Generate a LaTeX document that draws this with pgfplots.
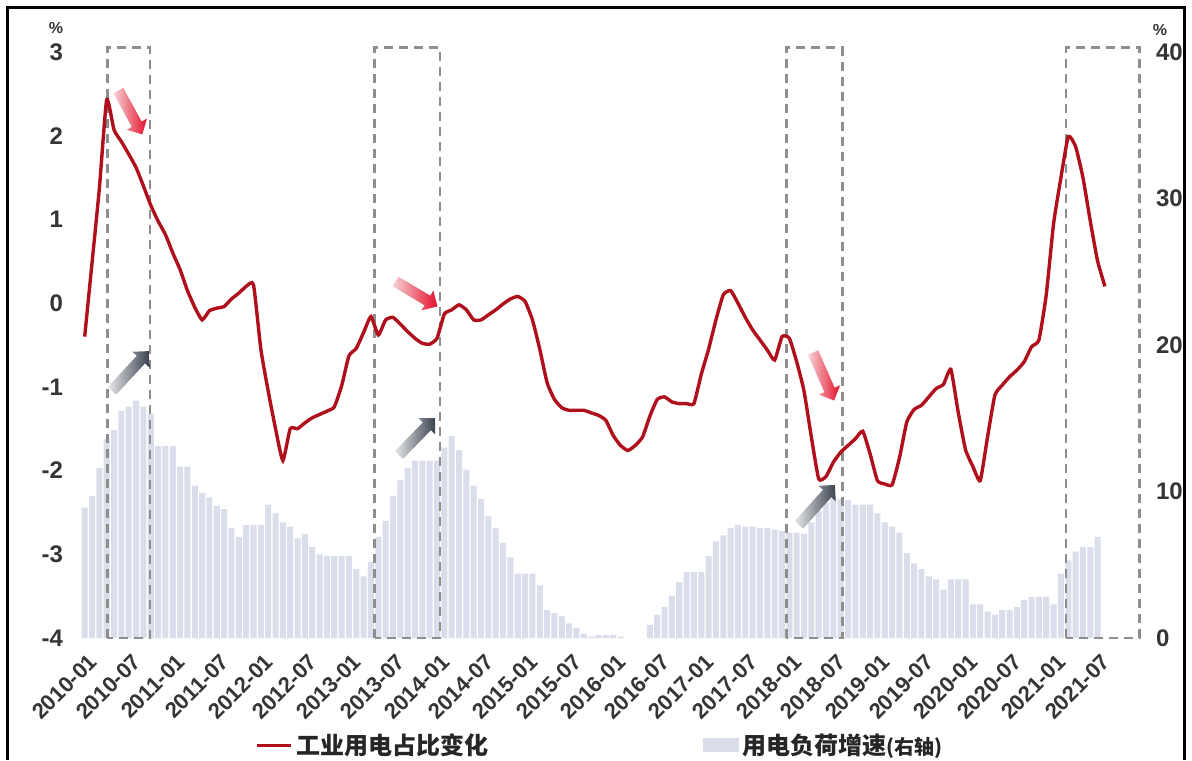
\documentclass[border=0pt]{standalone}
\usepackage{fontspec}
\setmainfont{Liberation Sans}
\newfontfamily\cjk{Noto Sans CJK SC}
\usepackage{pgfplots}
\usepackage{pgfplotstable}
\pgfplotsset{compat=1.18}
\usetikzlibrary{shapes.arrows}

\definecolor{linered}{HTML}{B0101C}
\definecolor{barfill}{HTML}{D9DEEA}
\definecolor{boxgray}{HTML}{8E8E8E}
\definecolor{ticktext}{HTML}{353535}
\definecolor{arrowred}{HTML}{E3102A}
\definecolor{arrowpink}{HTML}{F7D3D7}
\definecolor{arrowdark}{HTML}{3B4350}
\definecolor{arrowlight}{HTML}{E6E7E9}

% load growth, right axis (%), month index 0 = 2010-01
\pgfplotstableread{
k v
0 8.9
1 9.7
2 11.6
3 13.6
4 14.2
5 15.5
6 15.8
7 16.2
8 15.8
9 15.3
10 13.1
11 13.1
12 13.1
13 11.7
14 11.7
15 10.4
16 9.9
17 9.6
18 9.0
19 8.8
20 7.5
21 6.9
22 7.7
23 7.7
24 7.7
25 9.1
26 8.5
27 7.9
28 7.6
29 6.8
30 7.1
31 6.2
32 5.7
33 5.6
34 5.6
35 5.6
36 5.6
37 4.7
38 4.2
39 5.2
40 6.9
41 8.0
42 9.7
43 10.8
44 11.6
45 12.1
46 12.1
47 12.1
48 12.1
49 13.0
50 13.8
51 12.8
52 11.5
53 10.4
54 9.5
55 8.3
56 7.5
57 6.5
58 5.5
59 4.4
60 4.4
61 4.4
62 3.6
63 1.9
64 1.7
65 1.5
66 1.0
67 0.7
68 0.3
69 0.1
70 0.2
71 0.2
72 0.2
73 0.1
74 0
75 0
76 0
77 0.9
78 1.6
79 2.1
80 2.9
81 3.8
82 4.5
83 4.5
84 4.5
85 5.6
86 6.6
87 7.0
88 7.5
89 7.7
90 7.6
91 7.6
92 7.5
93 7.5
94 7.4
95 7.3
96 7.2
97 7.2
98 7.1
99 7.9
100 8.7
101 9.2
102 9.5
103 9.5
104 9.4
105 9.1
106 9.1
107 9.1
108 8.5
109 7.9
110 7.6
111 7.2
112 5.8
113 5.1
114 4.7
115 4.2
116 4.0
117 3.3
118 4.0
119 4.0
120 4.0
121 2.3
122 2.3
123 1.8
124 1.6
125 1.9
126 1.9
127 2.1
128 2.6
129 2.8
130 2.8
131 2.8
132 2.3
133 4.4
134 5.3
135 5.9
136 6.2
137 6.2
138 6.9
}\loadtable

% change of industrial share, left axis (%)
\pgfplotstableread{
k v
0 -0.40
1 0.48
2 1.37
3 2.43
4 2.07
5 1.93
6 1.78
7 1.62
8 1.40
9 1.17
10 0.98
11 0.82
12 0.60
13 0.40
14 0.15
15 -0.05
16 -0.20
17 -0.09
18 -0.06
19 -0.04
20 0.05
21 0.12
22 0.20
23 0.22
24 -0.55
25 -1.05
26 -1.50
27 -1.88
28 -1.50
29 -1.50
30 -1.43
31 -1.37
32 -1.33
33 -1.29
34 -1.24
35 -0.99
36 -0.63
37 -0.54
38 -0.35
39 -0.16
40 -0.38
41 -0.20
42 -0.17
43 -0.25
44 -0.34
45 -0.42
46 -0.48
47 -0.49
48 -0.42
49 -0.13
50 -0.08
51 -0.02
52 -0.08
53 -0.20
54 -0.20
55 -0.14
56 -0.08
57 -0.01
58 0.05
59 0.08
60 0.02
61 -0.20
62 -0.55
63 -0.95
64 -1.15
65 -1.25
66 -1.28
67 -1.28
68 -1.28
69 -1.31
70 -1.34
71 -1.40
72 -1.58
73 -1.70
74 -1.76
75 -1.70
76 -1.60
77 -1.35
78 -1.15
79 -1.12
80 -1.18
81 -1.20
82 -1.20
83 -1.20
84 -0.85
85 -0.55
86 -0.20
87 0.10
88 0.15
89 0.00
90 -0.17
91 -0.32
92 -0.44
93 -0.56
94 -0.68
95 -0.40
96 -0.42
97 -0.70
98 -1.05
99 -1.60
100 -2.10
101 -2.07
102 -1.90
103 -1.78
104 -1.70
105 -1.62
106 -1.53
107 -1.80
108 -2.12
109 -2.16
110 -2.17
111 -1.85
112 -1.42
113 -1.27
114 -1.22
115 -1.12
116 -1.02
117 -0.97
118 -0.79
119 -1.30
120 -1.75
121 -1.95
122 -2.12
123 -1.60
124 -1.10
125 -0.98
126 -0.88
127 -0.80
128 -0.70
129 -0.52
130 -0.44
131 0.10
132 0.95
133 1.50
134 1.99
135 1.87
136 1.50
137 0.98
138 0.50
139 0.20
}\sharetable

\tikzset{
  redarrow/.style={single arrow, draw=none, inner sep=2.6pt, minimum width=0pt,
    single arrow head extend=3pt, left color=arrowpink, right color=arrowred},
  grayarrow/.style={single arrow, draw=none, inner sep=2.6pt, minimum width=0pt,
    single arrow head extend=3pt, left color=arrowlight, right color=arrowdark},
}

\begin{document}
\begin{tikzpicture}[x=1pt,y=1pt]
\useasboundingbox (-35,-61) rectangle (561,319);
\fill[white] (-35,-61) rectangle (561,319);

% bars on the right axis
\begin{axis}[
  at={(0,0)}, anchor=south west, scale only axis,
  width=539.5pt, height=293pt,
  xmin=-2, xmax=145, ymin=0, ymax=40,
  axis x line=none,
  axis y line*=right,
  y axis line style={draw=none},
  ytick style={draw=none},
  ytick={0,10,20,30,40},
  yticklabels={0,10,20,30,40},
  yticklabel style={font=\bfseries\fontsize{12}{12}\selectfont, text=ticktext},
]
\addplot[ybar, bar width=0.82, fill=barfill, draw=none] table[x=k,y=v]{\loadtable};
\end{axis}

% line on the left axis
\begin{axis}[
  at={(0,0)}, anchor=south west, scale only axis,
  width=539.5pt, height=293pt,
  xmin=-2, xmax=145, ymin=-4, ymax=3,
  clip=false,
  axis y line*=left, axis x line*=bottom,
  axis line style={draw=none},
  tick style={draw=none},
  xtick={0,6,...,138},
  xticklabels={2010-01,2010-07,2011-01,2011-07,2012-01,2012-07,2013-01,2013-07,2014-01,2014-07,2015-01,2015-07,2016-01,2016-07,2017-01,2017-07,2018-01,2018-07,2019-01,2019-07,2020-01,2020-07,2021-01,2021-07},
  xticklabel style={rotate=45, anchor=north east, font=\bfseries\fontsize{11}{11}\selectfont, text=ticktext, xshift=-3pt, yshift=-5pt, inner sep=1pt},
  ytick={-4,-3,-2,-1,0,1,2,3},
  yticklabels={-4,-3,-2,-1,0,1,2,3},
  yticklabel style={font=\bfseries\fontsize{12}{12}\selectfont, text=ticktext},
  legend columns=2,
  legend style={at={(axis description cs:0.492,-0.183)}, anchor=center, draw=none, fill=none,
    font=\cjk\bfseries\fontsize{12}{12}\selectfont, text=black!85,
    /tikz/every even column/.append style={column sep=105pt}},
]
\draw[boxgray, line width=1.4pt, dash pattern=on 4.5pt off 3pt] (axis cs:3.1,-4) rectangle (axis cs:8.9,3.05);
\draw[boxgray, line width=1.4pt, dash pattern=on 4.5pt off 3pt] (axis cs:39.5,-4) rectangle (axis cs:48.4,3.05);
\draw[boxgray, line width=1.4pt, dash pattern=on 4.5pt off 3pt] (axis cs:95.6,-4) rectangle (axis cs:103.2,3.05);
\draw[boxgray, line width=1.4pt, dash pattern=on 4.5pt off 3pt] (axis cs:133.7,-4) rectangle (axis cs:143.7,3.05);
\addplot[linered, line width=1.7pt, smooth, tension=0.3] table[x=k,y=v]{\sharetable};
\addlegendentry{工业用电占比变化}
\addlegendimage{legend image code/.code={\fill[barfill] (0pt,-3.2pt) rectangle (17.5pt,3.2pt);}}
\addlegendentry{用电负荷增速{\fontsize{10}{10}\selectfont(右轴)}}
\end{axis}

% arrows
\node[redarrow, minimum height=25pt, rotate=-61.4] at (29.5,264) {};
\node[grayarrow, minimum height=27pt, rotate=47.2] at (29.25,132.5) {};
\node[redarrow, minimum height=24.4pt, rotate=-30.8] at (172,172.75) {};
\node[grayarrow, minimum height=25.8pt, rotate=45.8] at (172.5,99.75) {};
\node[redarrow, minimum height=26.2pt, rotate=-66.4] at (376.25,132) {};
\node[grayarrow, minimum height=26.9pt, rotate=48] at (372.5,65.5) {};

% unit marks
\node[font=\bfseries\fontsize{8}{8}\selectfont, text=ticktext] at (-7,305) {\%};
\node[font=\bfseries\fontsize{8}{8}\selectfont, text=ticktext] at (545,304) {\%};

% outer frame
\draw[black, line width=1.5pt] (-31,-61) -- (-31,315) -- (557,315) -- (557,-61);
\end{tikzpicture}
\end{document}
